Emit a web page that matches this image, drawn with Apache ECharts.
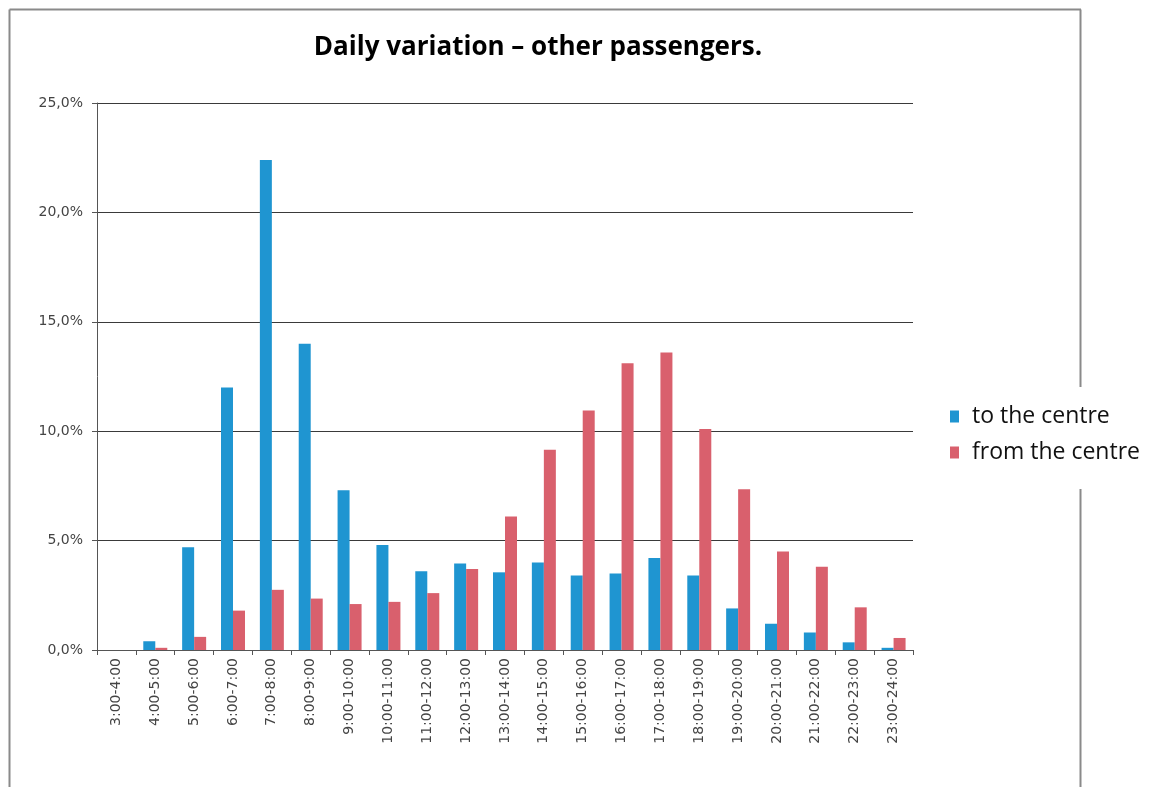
<!DOCTYPE html>
<html>
<head>
<meta charset="utf-8">
<script src="https://cdn.jsdelivr.net/npm/echarts@6/dist/echarts.min.js"></script>
<style>
html,body{margin:0;padding:0;background:#fff;}
#chart{width:1162px;height:787px;}
</style>
</head>
<body>
<div id="chart"></div>
<script>
const categories = ['3:00-4:00','4:00-5:00','5:00-6:00','6:00-7:00','7:00-8:00','8:00-9:00','9:00-10:00','10:00-11:00','11:00-12:00','12:00-13:00','13:00-14:00','14:00-15:00','15:00-16:00','16:00-17:00','17:00-18:00','18:00-19:00','19:00-20:00','20:00-21:00','21:00-22:00','22:00-23:00','23:00-24:00'];
const toCentre = [0.0, 0.4, 4.7, 12.0, 22.4, 14.0, 7.3, 4.8, 3.6, 3.95, 3.55, 4.0, 3.4, 3.5, 4.2, 3.4, 1.9, 1.2, 0.8, 0.35, 0.1];
const fromCentre = [0.0, 0.1, 0.6, 1.8, 2.75, 2.35, 2.1, 2.2, 2.6, 3.7, 6.1, 9.15, 10.95, 13.1, 13.6, 10.1, 7.35, 4.5, 3.8, 1.95, 0.55];
const seriesNames = ['to the centre', 'from the centre'];
const yTicks = {min: 0, max: 25, interval: 5};
const titleText = 'Daily variation \u2013 other passengers.';

const chart = echarts.init(document.getElementById('chart'), null, {renderer: 'canvas'});
const border = '#8a8a8a';
chart.setOption({
  backgroundColor: '#fff',
  animation: false,
  title: {
    text: titleText,
    left: 533, top: 30, textAlign: 'center',
    textStyle: {fontFamily: 'Open Sans', fontWeight: 'bold', fontSize: 26, color: '#000'}
  },
  legend: {
    orient: 'vertical',
    left: 945, top: 400,
    itemWidth: 9, itemHeight: 12, itemGap: 13,
    icon: 'rect',
    textStyle: {fontFamily: 'Open Sans', fontSize: 23, color: '#111', padding: [0,0,0,8]},
    data: seriesNames
  },
  grid: {left: 97, right: 249, top: 103, bottom: 137, containLabel: false},
  xAxis: {
    type: 'category',
    data: categories,
    boundaryGap: true,
    axisLine: {show: true, lineStyle: {color: '#555', width: 1}},
    axisTick: {show: true, length: 5, lineStyle: {color: '#555'}},
    axisLabel: {rotate: 90, interval: 0, margin: 8, fontFamily: 'DejaVu Sans', fontSize: 14, color: '#444'}
  },
  yAxis: {
    type: 'value',
    min: yTicks.min, max: yTicks.max, interval: yTicks.interval,
    axisLine: {show: true, lineStyle: {color: '#555', width: 1}},
    axisTick: {show: true, length: 5, lineStyle: {color: '#555'}},
    axisLabel: {
      margin: 14, fontFamily: 'DejaVu Sans', fontSize: 14, color: '#444',
      formatter: v => v.toFixed(1).replace('.', ',') + '%'
    },
    splitLine: {show: true, lineStyle: {color: '#3a3a3a', width: 1}}
  },
  series: [
    {name: seriesNames[0], type: 'bar', data: toCentre, barWidth: 12, barGap: '0%',
     itemStyle: {color: '#1f95d1'}},
    {name: seriesNames[1], type: 'bar', data: fromCentre, barWidth: 12,
     itemStyle: {color: '#d9606d'}}
  ],
  graphic: [
    {type: 'line', shape: {x1: 9.5, y1: 9.5, x2: 9.5, y2: 787}, style: {stroke: border, lineWidth: 2}, silent: true},
    {type: 'line', shape: {x1: 9.5, y1: 9.5, x2: 1081, y2: 9.5}, style: {stroke: border, lineWidth: 2}, silent: true},
    {type: 'line', shape: {x1: 1080.5, y1: 9.5, x2: 1080.5, y2: 387}, style: {stroke: border, lineWidth: 2}, silent: true},
    {type: 'line', shape: {x1: 1080.5, y1: 489, x2: 1080.5, y2: 787}, style: {stroke: border, lineWidth: 2}, silent: true}
  ]
});
</script>
</body>
</html>
